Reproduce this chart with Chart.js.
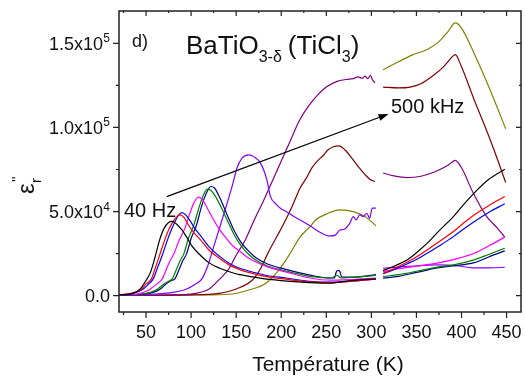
<!DOCTYPE html>
<html>
<head>
<meta charset="utf-8">
<script src="https://cdn.jsdelivr.net/npm/chart.js@4.4.1/dist/chart.umd.min.js"></script>
<style>
  html, body { margin: 0; padding: 0; background: #fff; }
</style>
</head>
<body>
<canvas id="chart" width="525" height="378"></canvas>
<script>
// values in units of 1e4, temperature in K
// low = first run (20-305 K), high = second run (313-450 K)
const c1Low = [[20,0.05],[30,0.08],[40,0.25],[45,0.5],[50,0.9],[55,1.4],[60,2.3],[65,3.3],[70,4.0],[75,4.35],[79,4.42],[84,4.25],[90,3.9],[96,3.4],[101,2.95],[110,2.42],[120,1.95],[132,1.63],[145,1.38],[154,1.25],[170,1.1],[184,0.98],[200,0.9],[232,0.78],[255,0.75],[270,0.85],[290,0.95],[305,1.0]];
const c1High = [[313,1.49],[325,1.75],[340,2.13],[350,2.55],[362,3.12],[375,3.85],[391,4.7],[402,5.4],[414,6.1],[430,6.9],[448,7.52]];
const c2Low = [[20,0.05],[35,0.15],[45,0.4],[50,0.7],[56,1.0],[60,1.6],[65,2.4],[70,3.2],[75,3.9],[80,4.4],[84,4.7],[88,4.8],[92,4.65],[97,4.2],[103,3.75],[110,3.35],[120,2.7],[132,2.2],[143,1.8],[154,1.55],[170,1.3],[184,1.13],[205,0.98],[232,0.82],[255,0.78],[275,0.85],[305,0.98]];
const c2High = [[313,1.33],[325,1.6],[340,2.0],[350,2.3],[362,2.72],[375,3.2],[391,3.81],[402,4.3],[414,4.8],[430,5.35],[448,5.89]];
const c3Low = [[20,0.05],[35,0.12],[47,0.4],[52,0.65],[58,1.0],[63,1.7],[68,2.4],[73,3.2],[78,3.9],[83,4.5],[87,4.85],[90,4.94],[94,4.8],[99,4.45],[104,4.0],[110,3.6],[120,2.9],[132,2.32],[143,1.9],[154,1.63],[170,1.38],[184,1.2],[205,1.05],[232,0.85],[255,0.8],[275,0.85],[305,0.98]];
const c3High = [[313,1.29],[325,1.55],[340,1.9],[350,2.15],[362,2.52],[375,2.95],[391,3.51],[402,3.95],[414,4.4],[430,4.95],[448,5.46]];
const c4Low = [[20,0.05],[40,0.1],[50,0.25],[55,0.4],[62,0.7],[68,1.0],[72,1.5],[76,2.0],[81,2.5],[86,3.2],[93,4.0],[98,4.8],[103,5.5],[108,5.86],[112,5.75],[118,5.2],[125,4.5],[132,3.9],[140,3.35],[147,2.92],[155,2.6],[162,2.3],[172,2.0],[184,1.73],[206,1.4],[232,1.05],[255,0.92],[275,0.95],[305,1.05]];
const c4High = [[313,1.43],[330,1.6],[350,1.75],[373,1.93],[395,2.2],[414,2.52],[430,2.95],[448,3.48]];
const c5Low = [[20,0.05],[45,0.1],[55,0.2],[63,0.4],[70,0.7],[75,0.85],[79,1.0],[84,1.6],[88,2.1],[92,2.5],[97,3.4],[103,4.2],[108,5.1],[113,5.9],[118,6.33],[122,6.25],[127,5.9],[132,5.4],[140,4.5],[147,3.7],[155,3.0],[162,2.55],[172,2.1],[184,1.78],[206,1.45],[232,1.15],[255,1.05],[262,1.2],[266,1.05],[280,1.1],[305,1.2]];
const c5High = [[313,1.13],[330,1.25],[350,1.45],[373,1.7],[391,1.83],[414,2.13],[430,2.45],[448,2.82]];
const c6Low = [[20,0.05],[45,0.1],[58,0.2],[66,0.4],[72,0.7],[78,0.9],[82,1.0],[87,1.6],[91,2.1],[95,2.5],[100,3.4],[106,4.2],[111,5.2],[117,6.1],[122,6.49],[126,6.4],[132,5.8],[140,4.8],[147,3.95],[155,3.2],[162,2.75],[172,2.25],[184,1.9],[206,1.55],[232,1.22],[255,1.05],[259,1.05],[261,1.4],[263,1.5],[265,1.45],[267,1.1],[280,1.1],[305,1.25]];
const c6High = [[313,1.04],[330,1.15],[350,1.38],[373,1.65],[391,1.77],[414,1.96],[430,2.3],[448,2.66]];
const c7Low = [[20,0.02],[60,0.1],[80,0.2],[95,0.4],[105,0.7],[112,1.0],[118,1.7],[125,2.9],[132,4.1],[140,5.5],[146,6.6],[151,7.6],[157,8.2],[164,8.37],[170,8.25],[177,7.88],[184,6.9],[188,5.9],[194,5.45],[199,5.2],[207,4.95],[214,4.7],[221,4.5],[232,4.15],[242,3.8],[254,3.55],[260,3.6],[265,3.9],[270,3.95],[276,4.3],[280,4.7],[283,4.5],[287,4.8],[291,4.7],[295,4.9],[298,4.6],[301,5.2],[305,5.2]];
const c7High = [[313,1.63],[330,1.7],[350,1.78],[373,1.83],[395,1.78],[413,1.65],[430,1.65],[448,1.69]];
const c8Low = [[20,0.02],[80,0.05],[105,0.14],[120,0.4],[132,1.0],[142,1.6],[150,2.4],[160,3.3],[170,4.5],[180,5.6],[190,6.8],[200,8.0],[210,9.2],[220,10.4],[230,11.25],[240,11.9],[250,12.4],[262,12.74],[272,12.85],[280,12.9],[285,13.0],[290,12.92],[293,13.05],[296,12.9],[299,13.1],[301,12.85],[304,12.65]];
const c8High = [[313,7.29],[325,7.12],[340,7.02],[355,7.1],[370,7.35],[385,7.75],[393,8.04],[400,7.6],[413,6.1],[428,4.7],[440,4.0],[448,3.48]];
const c9Low = [[20,0.02],[100,0.05],[131,0.14],[150,0.4],[168,0.93],[177,1.6],[185,2.5],[195,3.5],[203,4.3],[212,5.3],[221,6.4],[228,7.0],[234,7.6],[240,8.0],[246,8.3],[252,8.67],[258,8.85],[264,8.9],[270,8.7],[277,8.27],[285,7.7],[293,7.2],[299,6.89],[304,6.79]];
const c9High = [[313,12.4],[330,12.35],[343,12.4],[355,12.6],[369,13.1],[380,13.6],[388,14.1],[393,14.33],[400,13.6],[414,11.65],[425,10.2],[436,8.67],[449,6.73]];
const c10Low = [[20,0.02],[120,0.05],[146,0.1],[165,0.35],[183,0.74],[197,1.5],[210,2.52],[221,3.5],[232,4.1],[238,4.5],[250,4.85],[265,5.1],[280,5.0],[293,4.7],[300,4.4],[305,4.15]];
const c10High = [[313,13.43],[330,13.9],[345,14.3],[362,14.63],[375,15.1],[385,15.7],[393,16.21],[400,15.9],[414,14.4],[432,12.2],[449,9.92]];

const curveColors = ['#000000','#ff0000','#0000ff','#ff00ff','#008000','#000080','#8000ff','#800080','#800000','#808000'];
const lowRuns = [c1Low,c2Low,c3Low,c4Low,c5Low,c6Low,c7Low,c8Low,c9Low,c10Low];
const highRuns = [c1High,c2High,c3High,c4High,c5High,c6High,c7High,c8High,c9High,c10High];

const xTicks = [50,100,150,200,250,300,350,400,450];
const xMinorTicks = [25,75,125,175,225,275,325,375,425];
const yTicks = [0,5,10,15];
const yMinorTicks = [2.5,7.5,12.5];
const yTickBase = ['0.0','5.0x10','1.0x10','1.5x10'];
const yTickExp = ['','4','5','5'];

const FONT = '"Liberation Sans", Arial, sans-serif';

const datasets = [];
lowRuns.forEach((run, i) => {
    [run, highRuns[i]].forEach(part => {
        datasets.push({
            data: part.map(p => ({x: p[0], y: p[1]})),
            borderColor: curveColors[i],
            borderWidth: 1.2,
            pointRadius: 0,
            fill: false,
            cubicInterpolationMode: 'monotone'
        });
    });
});

function text(ctx, str, x, y, size, align) {
    ctx.font = size + 'px ' + FONT;
    ctx.textAlign = align || 'left';
    ctx.fillText(str, x, y);
    return ctx.measureText(str).width;
}

const framePlugin = {
    id: 'framePlugin',
    afterDraw(chart) {
        const {ctx, chartArea: a, scales: {x, y}} = chart;
        ctx.save();
        ctx.fillStyle = '#111';
        ctx.strokeStyle = '#222';
        ctx.lineWidth = 1.5;
        ctx.strokeRect(a.left, a.top, a.right - a.left, a.bottom - a.top);

        // ticks
        ctx.lineWidth = 1.2;
        ctx.beginPath();
        const tx = (v, len) => {
            const px = x.getPixelForValue(v);
            ctx.moveTo(px, a.bottom); ctx.lineTo(px, a.bottom + len);
            ctx.moveTo(px, a.top); ctx.lineTo(px, a.top + len - 1);
        };
        const ty = (v, len) => {
            const py = y.getPixelForValue(v);
            ctx.moveTo(a.left, py); ctx.lineTo(a.left - len, py);
            ctx.moveTo(a.right, py); ctx.lineTo(a.right - len + 1, py);
        };
        xTicks.forEach(v => tx(v, 6));
        xMinorTicks.forEach(v => tx(v, 3));
        yTicks.forEach(v => ty(v, 6));
        yMinorTicks.forEach(v => ty(v, 3));
        ctx.stroke();

        // tick labels
        ctx.textBaseline = 'alphabetic';
        xTicks.forEach(v => text(ctx, String(v), x.getPixelForValue(v), a.bottom + 26, 18, 'center'));
        yTicks.forEach((v, i) => {
            const py = y.getPixelForValue(v) + 6.5;
            let right = a.left - 9;
            if (yTickExp[i]) {
                text(ctx, yTickExp[i], right, py - 7.5, 12, 'right');
                right -= 7;
            }
            text(ctx, yTickBase[i], right, py, 18, 'right');
        });

        // axis titles
        text(ctx, 'Température (K)', (a.left + a.right) / 2 + 8, 371, 21, 'center');
        ctx.save();
        ctx.translate(34, 194);
        ctx.rotate(-Math.PI / 2);
        text(ctx, 'ε', 0, 0, 24, 'left');
        text(ctx, 'r', 11, 7, 15, 'left');
        text(ctx, "''", 12, -12, 15, 'left');
        ctx.restore();

        // annotations
        text(ctx, 'd)', 132, 47, 18);
        let cx = 186;
        cx += text(ctx, 'BaTiO', cx, 54, 26);
        cx += text(ctx, '3-δ', cx, 62, 16) + 6;
        cx += text(ctx, '(TiCl', cx, 54, 26);
        cx += text(ctx, '3', cx, 62, 16);
        text(ctx, ')', cx, 54, 26);
        text(ctx, '500 kHz', 391, 113, 20);
        text(ctx, '40 Hz', 124, 217, 20);

        // arrow 40 Hz -> 500 kHz
        const x0 = x.getPixelForValue(73), y0 = y.getPixelForValue(5.89);
        const x1 = x.getPixelForValue(319), y1 = y.getPixelForValue(10.8);
        const ang = Math.atan2(y1 - y0, x1 - x0);
        ctx.lineWidth = 1.2;
        ctx.strokeStyle = '#000';
        ctx.beginPath();
        ctx.moveTo(x0, y0);
        ctx.lineTo(x1 - 8 * Math.cos(ang), y1 - 8 * Math.sin(ang));
        ctx.stroke();
        ctx.fillStyle = '#000';
        ctx.beginPath();
        ctx.moveTo(x1, y1);
        ctx.lineTo(x1 - 10 * Math.cos(ang) + 3.5 * Math.sin(ang), y1 - 10 * Math.sin(ang) - 3.5 * Math.cos(ang));
        ctx.lineTo(x1 - 10 * Math.cos(ang) - 3.5 * Math.sin(ang), y1 - 10 * Math.sin(ang) + 3.5 * Math.cos(ang));
        ctx.closePath();
        ctx.fill();
        ctx.restore();
    }
};

new Chart(document.getElementById('chart'), {
    type: 'line',
    data: { datasets: datasets },
    options: {
        responsive: false,
        animation: false,
        layout: { padding: { left: 119, right: 4, top: 11, bottom: 66 } },
        plugins: { legend: { display: false }, tooltip: { enabled: false } },
        scales: {
            x: { type: 'linear', display: false, min: 20, max: 466 },
            y: { type: 'linear', display: false, min: -0.97, max: 16.92 }
        }
    },
    plugins: [framePlugin]
});
</script>
</body>
</html>
